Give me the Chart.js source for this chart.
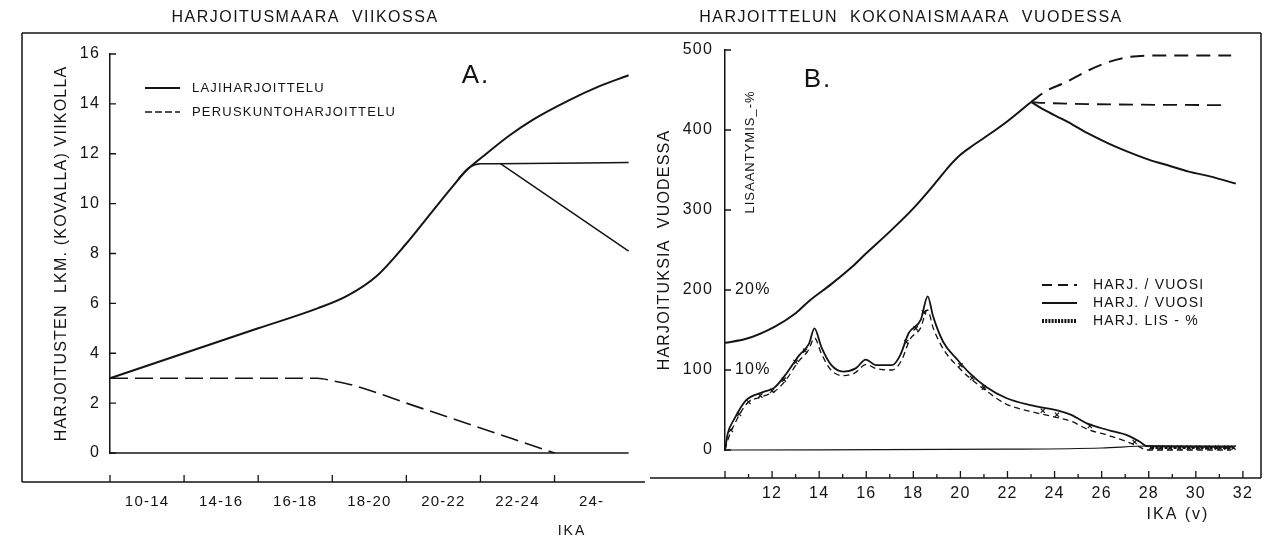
<!DOCTYPE html>
<html>
<head>
<meta charset="utf-8">
<title>Harjoitusmäärä</title>
<script src="https://cdn.jsdelivr.net/npm/chart.js@4.4.1/dist/chart.umd.min.js"></script>
<style>
  html, body { margin: 0; padding: 0; background: #fff; }
  #wrap { position: relative; width: 1287px; height: 538px; overflow: hidden; background: #fff; }
  .panel { position: absolute; top: 0; height: 538px; }
  #panelA { left: 0; width: 645px; }
  #panelB { left: 645px; width: 642px; }
</style>
</head>
<body>
<div id="wrap">
  <div class="panel" id="panelA"><canvas id="chartA"></canvas></div>
  <div class="panel" id="panelB"><canvas id="chartB"></canvas></div>
</div>
<script>
// DATA A: harjoitusmaara viikossa
// x is in age-group units: 0 = start of 10-14, 7 = end of 24-
// -----------------------------------------------------------------------------
var ageGroups = ['10-14', '14-16', '16-18', '18-20', '20-22', '22-24', '24-'];
var weekTicks = [0, 2, 4, 6, 8, 10, 12, 14, 16];

var lajiX = [0, 1, 2, 2.8, 3.2, 3.6, 4.0, 4.3, 4.6, 4.8, 5.1, 5.4, 5.7, 6.2, 6.6, 7.0];
var lajiY = [3.0, 4.0, 5.0, 5.8, 6.3, 7.1, 8.4, 9.5, 10.6, 11.3, 12.05, 12.75, 13.35, 14.15, 14.7, 15.15];
var tasaX = [4.7, 4.85, 5.0, 5.2, 7.0];
var tasaY = [11.0, 11.45, 11.6, 11.6, 11.65];
var laskuX = [5.27, 7.0];
var laskuY = [11.6, 8.1];
var perusX = [0, 1, 2, 2.8, 3.0, 3.3, 4.0, 5.0, 6.0];
var perusY = [3, 3, 3, 3, 2.9, 2.7, 2.0, 1.0, 0];
var nollaX = [0, 7];
var nollaY = [0, 0];

// DATA B: harjoittelun kokonaismaara vuodessa
// -----------------------------------------------------------------------------
var ageTicks = [12, 14, 16, 18, 20, 22, 24, 26, 28, 30, 32];
var yearTicks = [0, 100, 200, 300, 400, 500];
var pctTicks = [100, 200];
var pctLabels = ['10%', '20%'];

var nousuX = [10, 10.9, 12.1, 13.0, 13.6, 14.5, 15.4, 16.0, 17.0, 18.0, 19.0, 19.5, 20.0, 20.5, 21.0, 22.0, 23.0];
var nousuY = [134, 139, 154, 171, 187, 207, 229, 246, 273, 302, 336, 354, 369, 380, 390, 411, 435];
var laskuBX = [23.0, 23.5, 24.5, 25.4, 26.3, 27.1, 28.0, 28.9, 29.7, 30.6, 31.7];
var laskuBY = [435, 426, 411, 396, 383, 373, 363, 355, 348, 342, 333];
var ylaX = [23.0, 23.66, 24.5, 25.4, 26.3, 27.1, 28.0, 31.5];
var ylaY = [435, 449, 460, 474, 485, 491, 493, 493];
var tasaBX = [23.0, 23.4, 31.2];
var tasaBY = [435, 434, 431];

var lisX = [10.0, 10.12, 10.38, 10.89, 11.58, 12.1, 12.62, 13.14, 13.57, 13.8, 14.09, 14.52, 15.03, 15.55, 15.98, 16.42, 17.1, 17.45, 17.8, 18.32, 18.61, 18.84, 19.27, 19.87, 20.39, 21.08, 21.94, 22.98, 24.19, 24.71, 25.4, 26.26, 27.12, 27.64, 27.9, 31.6];
var lisY = [0, 21, 38, 62, 72, 78, 96, 118, 133, 152, 129, 106, 98, 102, 113, 106, 106, 119, 146, 163, 192, 167, 135, 113, 96, 79, 65, 56, 49, 44, 33, 25, 18, 10, 5, 4];
var lisKatkoX = [10.0, 10.15, 10.4, 10.9, 11.6, 12.1, 12.6, 13.1, 13.55, 13.8, 14.1, 14.5, 15.0, 15.5, 16.0, 16.4, 17.1, 17.5, 17.85, 18.3, 18.6, 18.85, 19.3, 19.9, 20.4, 21.1, 21.9, 23.0, 24.2, 24.7, 25.4, 26.3, 27.1, 27.6, 27.9, 31.5];
var lisKatkoY = [0, 15, 32, 57, 67, 73, 88, 110, 125, 140, 120, 100, 93, 96, 107, 102, 100, 112, 138, 152, 175, 152, 125, 104, 90, 74, 58, 48, 40, 36, 26, 18, 10, 4, 0, 0];
var lisRastiX = [10.25, 10.6, 11.0, 11.5, 12.0, 12.5, 13.0, 13.4, 17.7, 18.1, 18.45, 20.0, 20.5, 21.0, 23.5, 24.1, 25.5, 27.4, 28.1, 28.5, 28.9, 29.3, 29.7, 30.1, 30.5, 30.9, 31.3, 31.6];
var lisRastiY = [25, 45, 60, 68, 74, 88, 110, 124, 135, 152, 172, 106, 90, 78, 49, 44, 30, 10, 3, 3, 3, 3, 3, 3, 3, 3, 3, 3];
var pohjaX = [10, 22, 26, 28, 31.7];
var pohjaY = [0, 1, 2.5, 5, 5];

// SETUP
// -----------------------------------------------------------------------------
var INK = '#141414';
var FAM = "'Liberation Sans', 'DejaVu Sans', Arial, sans-serif";
Chart.defaults.font.family = FAM;
Chart.defaults.color = INK;

function xy(xs, ys) {
    return xs.map(function(x, i) { return { x: x, y: ys[i] }; });
}

function line(label, xs, ys, extra) {
    var d = {
        label: label,
        data: xy(xs, ys),
        borderColor: INK,
        backgroundColor: INK,
        borderWidth: 1.8,
        pointRadius: 0,
        fill: false,
        clip: false,
        cubicInterpolationMode: 'monotone'
    };
    for (var k in extra) d[k] = extra[k];
    return d;
}

function fixTicks(list) {
    return function(scale) {
        scale.ticks = list.map(function(v) { return { value: v }; });
    };
}

// frame, titles, tick marks and legend drawn on top of the chart
var decor = {
    id: 'decor',
    beforeLayout: function(chart) { chart.ctx.letterSpacing = '1.2px'; },
    beforeDraw: function(chart) { chart.ctx.letterSpacing = '1.2px'; },
    afterDraw: function(chart, args, o) {
        var ctx = chart.ctx;
        var xs = chart.scales.x, ys = chart.scales.y;
        var left = chart.chartArea.left;
        ctx.save();
        ctx.strokeStyle = INK;
        ctx.fillStyle = INK;
        ctx.lineCap = 'butt';

        // frame
        ctx.lineWidth = 1.5;
        ctx.beginPath();
        o.frame.forEach(function(s) { ctx.moveTo(s[0], s[1]); ctx.lineTo(s[2], s[3]); });
        ctx.stroke();

        // x tick marks rising from the frame
        ctx.lineWidth = 1.3;
        ctx.beginPath();
        for (var v = xs.min; v <= o.markMax + 0.001; v += 1) {
            var px = xs.getPixelForValue(v);
            var len = (o.minorEvery && (v - xs.min) % 2 !== 0) ? 4 : 7;
            ctx.moveTo(px, o.markY);
            ctx.lineTo(px, o.markY - len);
        }
        ctx.stroke();

        // y tick marks pointing inward
        ctx.beginPath();
        ys.ticks.forEach(function(t) {
            var py = ys.getPixelForValue(t.value);
            ctx.moveTo(left, py);
            ctx.lineTo(left + 6, py);
        });
        ctx.stroke();

        // texts
        o.texts.forEach(function(t) {
            ctx.save();
            ctx.letterSpacing = t.spacing || '1.2px';
            ctx.font = t.font;
            ctx.textAlign = 'center';
            ctx.textBaseline = 'middle';
            ctx.translate(t.x, t.y);
            if (t.rot) ctx.rotate(t.rot);
            ctx.fillText(t.text, 0, 0);
            ctx.restore();
        });

        // legend
        var lg = o.legend;
        lg.items.forEach(function(it, i) {
            var ds = chart.data.datasets[it.ds];
            var yy = lg.y + i * lg.gap;
            ctx.save();
            ctx.lineWidth = it.width || ds.borderWidth;
            ctx.setLineDash(it.dash || ds.borderDash || []);
            ctx.beginPath();
            ctx.moveTo(lg.x, yy);
            ctx.lineTo(lg.x + lg.len, yy);
            ctx.stroke();
            ctx.setLineDash([]);
            ctx.letterSpacing = '1.2px';
            ctx.font = lg.font;
            ctx.textAlign = 'left';
            ctx.textBaseline = 'middle';
            ctx.fillText(ds.label, lg.textX, yy);
            ctx.restore();
        });
        ctx.restore();
    }
};

// CHART A
// -----------------------------------------------------------------------------
new Chart(document.getElementById('chartA'), {
    type: 'line',
    data: {
        datasets: [
            line('LAJIHARJOITTELU', lajiX, lajiY, { borderWidth: 2 }),
            line('LAJIHARJOITTELU', tasaX, tasaY, { borderWidth: 1.5 }),
            line('LAJIHARJOITTELU', laskuX, laskuY, { borderWidth: 1.5, cubicInterpolationMode: 'default', tension: 0 }),
            line('PERUSKUNTOHARJOITTELU', perusX, perusY, { borderWidth: 1.6, borderDash: [18, 7] }),
            line('', nollaX, nollaY, { borderWidth: 1.5 })
        ]
    },
    options: {
        responsive: true,
        maintainAspectRatio: false,
        animation: false,
        layout: { padding: { left: 20, top: 54, right: 11, bottom: 0 } },
        plugins: {
            legend: { display: false },
            tooltip: { enabled: false },
            decor: {
                frame: [[22, 33, 645, 33], [22, 33, 22, 482], [22, 482, 645, 482]],
                markY: 482,
                markMax: 6,
                minorEvery: false,
                texts: [
                    { text: 'HARJOITUSMAARA  VIIKOSSA', x: 305, y: 18, font: '16px ' + FAM, spacing: '1.5px' },
                    { text: 'A.', x: 476, y: 76, font: '26px ' + FAM, spacing: '2px' },
                    { text: 'IKA', x: 572, y: 531, font: '14px ' + FAM, spacing: '2px' }
                ],
                legend: { x: 145, y: 88, gap: 24, len: 35, textX: 192, font: '13px ' + FAM, items: [{ ds: 0 }, { ds: 3, dash: [7, 3] }] }
            }
        },
        scales: {
            x: {
                type: 'linear',
                min: 0,
                max: 7,
                afterBuildTicks: function(s) {
                    s.ticks = ageGroups.map(function(c, i) { return { value: i + 0.5 }; });
                },
                afterFit: function(s) { s.height = 85; },
                grid: { display: false, drawTicks: false },
                border: { display: false },
                ticks: {
                    autoSkip: false,
                    maxRotation: 0,
                    padding: 40,
                    font: { size: 15 },
                    callback: function(v, i) { return ageGroups[i]; }
                }
            },
            y: {
                min: 0,
                max: 16,
                afterBuildTicks: fixTicks(weekTicks),
                afterFit: function(s) { s.width = 90; },
                grid: { display: false, drawTicks: false },
                border: { display: true, color: INK, width: 1.5 },
                ticks: { padding: 10, font: { size: 16 } },
                title: {
                    display: true,
                    text: 'HARJOITUSTEN  LKM. (KOVALLA) VIIKOLLA',
                    font: { size: 16 },
                    padding: { top: 32, bottom: 0 }
                }
            }
        }
    },
    plugins: [decor]
});

// CHART B
// -----------------------------------------------------------------------------
new Chart(document.getElementById('chartB'), {
    type: 'line',
    data: {
        datasets: [
            line('HARJ. / VUOSI', nousuX, nousuY, { borderWidth: 2 }),
            line('HARJ. / VUOSI', laskuBX, laskuBY, { borderWidth: 2 }),
            line('HARJ. / VUOSI', ylaX, ylaY, { borderWidth: 2, borderDash: [14, 8] }),
            line('HARJ. / VUOSI', tasaBX, tasaBY, { borderWidth: 1.8, borderDash: [14, 8] }),
            line('HARJ. / VUOSI', lisX, lisY, { borderWidth: 1.8 }),
            line('HARJ. / VUOSI', lisKatkoX, lisKatkoY, { borderWidth: 1.3, borderDash: [6, 4] }),
            line('HARJ. LIS - %', lisRastiX, lisRastiY, {
                borderWidth: 3,
                borderDash: [3, 1.5],
                pointRadius: 3,
                pointStyle: 'crossRot',
                pointBorderWidth: 1.2,
                pointBorderColor: INK,
                segment: {
                    borderColor: function(c) { return c.p0.parsed.x >= 28 ? INK : 'rgba(0,0,0,0)'; }
                }
            }),
            line('', pohjaX, pohjaY, { borderWidth: 1.2 })
        ]
    },
    options: {
        responsive: true,
        maintainAspectRatio: false,
        animation: false,
        layout: { padding: { left: 0, top: 50, right: 42, bottom: 0 } },
        plugins: {
            legend: { display: false },
            tooltip: { enabled: false },
            decor: {
                frame: [[0, 33, 616, 33], [616, 33, 616, 478], [5, 478, 616, 478]],
                markY: 478,
                markMax: 32,
                minorEvery: true,
                texts: [
                    { text: 'HARJOITTELUN  KOKONAISMAARA  VUODESSA', x: 266, y: 18, font: '16px ' + FAM, spacing: '1.5px' },
                    { text: 'B.', x: 173, y: 80, font: '26px ' + FAM, spacing: '2px' },
                    { text: 'LISAANTYMIS_-%', x: 105, y: 152, rot: -Math.PI / 2, font: '13px ' + FAM, spacing: '1px' },
                    { text: 'IKA (v)', x: 533, y: 515, font: '16px ' + FAM, spacing: '2px' }
                ],
                legend: { x: 397, y: 285, gap: 18, len: 35, textX: 448, font: '14px ' + FAM, items: [{ ds: 2, dash: [10, 6] }, { ds: 0 }, { ds: 6, width: 4, dash: [2, 1.2] }] }
            }
        },
        scales: {
            x: {
                type: 'linear',
                min: 10,
                max: 32,
                afterBuildTicks: fixTicks(ageTicks),
                afterFit: function(s) { s.height = 88; },
                grid: { display: false, drawTicks: false },
                border: { display: false },
                ticks: { autoSkip: false, maxRotation: 0, padding: 34, font: { size: 16 } }
            },
            y: {
                min: 0,
                max: 500,
                weight: 1,
                afterBuildTicks: fixTicks(yearTicks),
                afterFit: function(s) { s.width = 80; },
                grid: { display: false, drawTicks: false },
                border: { display: true, color: INK, width: 1.5 },
                ticks: { padding: 12, font: { size: 16 } },
                title: {
                    display: true,
                    text: 'HARJOITUKSIA  VUODESSA',
                    font: { size: 16 },
                    padding: { top: 10, bottom: 0 }
                }
            },
            y2: {
                position: 'left',
                min: 0,
                max: 500,
                weight: 0,
                afterBuildTicks: fixTicks(pctTicks),
                afterFit: function(s) { s.width = 0; },
                grid: { display: false, drawTicks: false },
                border: { display: false },
                ticks: {
                    mirror: true,
                    padding: 10,
                    font: { size: 16 },
                    callback: function(v, i) { return pctLabels[i]; }
                }
            }
        }
    },
    plugins: [decor]
});
</script>
</body>
</html>
